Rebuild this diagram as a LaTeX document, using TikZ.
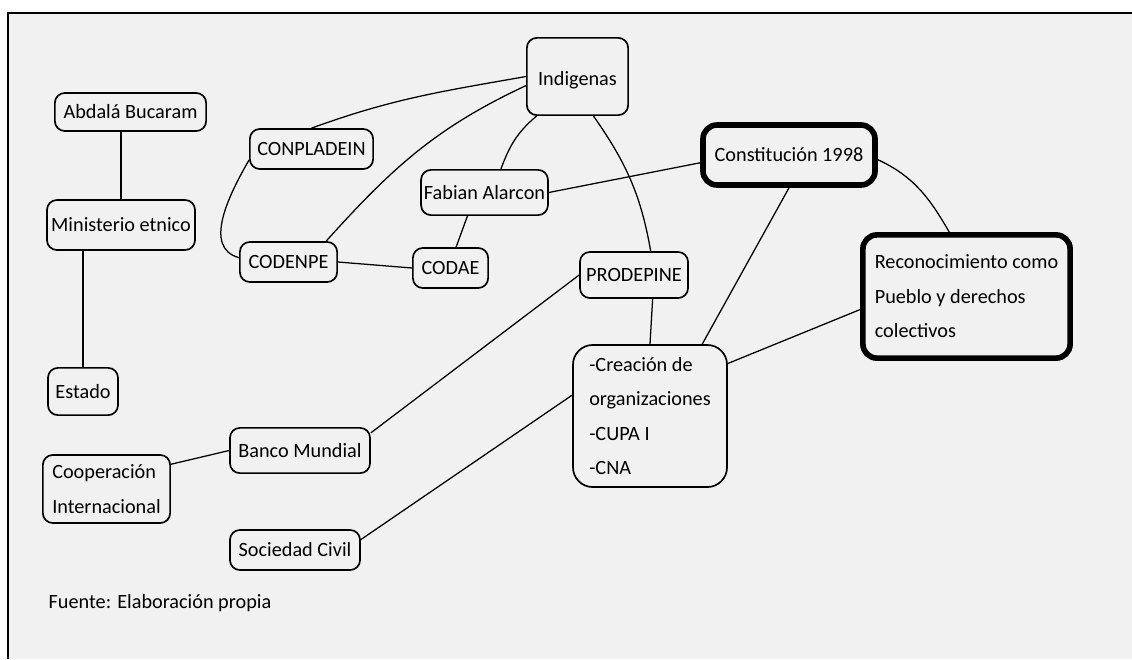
\documentclass[tikz,border=0pt]{standalone}
\usepackage{fontspec}
\setmainfont{Carlito}
\usepackage{tikz}
\usetikzlibrary{arrows.meta,positioning,calc,backgrounds}

\tikzset{
  box/.style={draw, line width=1.2pt, rounded corners=7pt, inner sep=2pt,
    font=\fontsize{14.4}{24.5}\selectfont, align=left},
  thickbox/.style={box, line width=4pt, rounded corners=10pt},
  link/.style={line width=0.9pt}
}

\begin{document}
\begin{tikzpicture}[x=0.025cm, y=-0.025cm]
\useasboundingbox (0,0) rectangle (1132,659);
\fill[gray!11] (8,13) rectangle (1132,659);
\draw[line width=1.4pt] (8,659) -- (8,13) -- (1132,13);

\node[box, minimum width=3.78cm, minimum height=0.95cm] (bucaram) at (130.5,112) {Abdalá Bucaram};
\node[box, minimum width=3.7cm, minimum height=1.25cm] (ministerio) at (121,225) {Ministerio etnico};
\node[box, minimum width=1.75cm, minimum height=1.18cm] (estado) at (83,391.5) {Estado};
\node[box, minimum width=3.08cm, minimum height=1cm] (conpladein) at (311.5,149) {CONPLADEIN};
\node[box, minimum width=2.43cm, minimum height=1cm] (codenpe) at (288.5,262) {CODENPE};
\node[box, minimum width=2.53cm, minimum height=1.93cm, text height=0.55cm] (indigenas) at (577.5,76.5) {Indigenas};
\node[box, minimum width=3.13cm, minimum height=1.13cm] (fabian) at (484.5,192.5) {Fabian Alarcon};
\node[box, minimum width=1.88cm, minimum height=1cm] (codae) at (450.5,268) {CODAE};
\node[box, minimum width=2.7cm, minimum height=1.15cm] (prodepine) at (634,275) {PRODEPINE};
\node[thickbox, minimum width=4.3cm, minimum height=1.5cm] (constitucion) at (789,155) {Constitución 1998};
\node[thickbox, minimum width=5.18cm, minimum height=3.08cm] (reconocimiento) at (966.5,296.5)
  {Reconocimiento como\\Pueblo y derechos\\colectivos};
\node[box, rounded corners=14pt, minimum width=3.85cm, minimum height=3.55cm] (creacion) at (650,416)
  {-Creación de\\organizaciones\\-CUPA I\\-CNA};
\node[box, minimum width=3.18cm, minimum height=1.7cm] (cooperacion) at (106.5,489) {Cooperación\\Internacional};
\node[box, minimum width=3.5cm, minimum height=1.13cm] (banco) at (300,450.5) {Banco Mundial};
\node[box, minimum width=3.25cm, minimum height=1cm] (sociedad) at (295,550) {Sociedad Civil};
\node[font=\fontsize{14.4}{17}\selectfont] (fuente) at (160,603) {Fuente: Elaboración propia};

\draw[link] (ministerio.north) -- (ministerio.north |- bucaram.south);
\draw[link] (estado.north) -- (estado.north |- ministerio.south);
\draw[link] (conpladein.north) to[out=20, in=190] (indigenas.west);
\draw[link] (conpladein.190) to[out=240, in=165] (codenpe.175);
\draw[link] (codenpe.29) to[out=48, in=205] (indigenas.190);
\draw[link] (codenpe.east) -- (codae.west);
\draw[link] (codae.75) -- (fabian.234);
\draw[link] (fabian.55) to[out=70, in=220] (indigenas.224);
\draw[link] (fabian.east) -- (constitucion.185);
\draw[link] (indigenas.292) to[out=-55, in=100] (prodepine.55);
\draw[link] (prodepine.308) -- (creacion.north);
\draw[link] (prodepine.west) -- (banco.14);
\draw[link] (constitucion.south) -- (creacion.54);
\draw[link] (constitucion.357) to[out=-25, in=120] (reconocimiento.105);
\draw[link] (reconocimiento.187) -- (creacion.34);
\draw[link] (creacion.165) -- (sociedad.9);
\draw[link] (cooperacion.21) -- (banco.west);
\end{tikzpicture}
\end{document}
